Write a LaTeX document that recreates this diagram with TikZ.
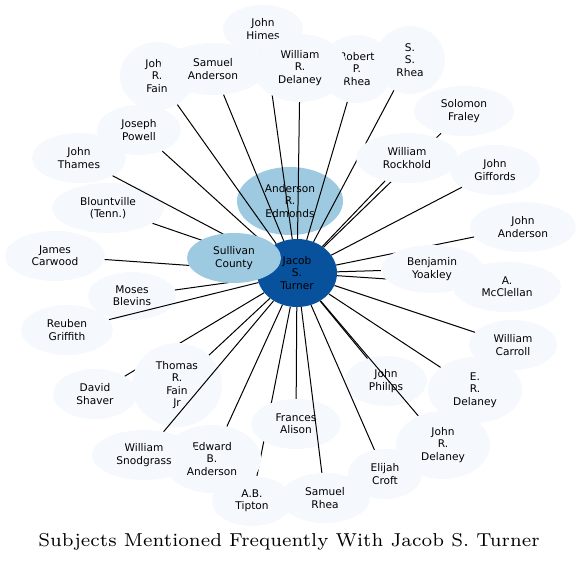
\documentclass[tikz,border=0pt]{standalone}
\usepackage{fontspec}
\newfontfamily\subjfont{DejaVu Sans}
\newfontfamily\titlefont{lmroman7-regular}[Extension=.otf]
\usetikzlibrary{shapes.geometric}
\definecolor{paleblue}{HTML}{F5F9FE}
\definecolor{midblue}{HTML}{9ECAE1}
\definecolor{deepblue}{HTML}{08519C}
\begin{document}
\begin{tikzpicture}[x=1pt,y=-1pt]
\tikzstyle{subj}=[ellipse,fill=paleblue,inner sep=0pt,align=center,font=\subjfont\fontsize{10.6}{12.4}\selectfont]
\tikzstyle{near}=[subj,fill=midblue]
\tikzstyle{hub}=[subj,fill=deepblue]
\tikzstyle{link}=[line width=1pt]
\useasboundingbox (0,0) rectangle (580,562);
\node [hub,minimum width=80pt,minimum height=68pt] (jacob) at (297,273) {Jacob\\S.\\Turner};
\node [near,minimum width=106pt,minimum height=68pt] (edmonds) at (290,201) {Anderson\\R.\\Edmonds};
\node [subj,minimum width=80pt,minimum height=48pt] (himes) at (263,29) {John\\Himes};
\draw [link] (jacob) -- (himes);
\node [subj,minimum width=74pt,minimum height=68pt] (jfain) at (157,76) {John\\R.\\Fain};
\draw [link] (jacob) -- (jfain);
\node [subj,minimum width=106pt,minimum height=52pt] (samand) at (213,69) {Samuel\\Anderson};
\draw [link] (jacob) -- (samand);
\node [subj,minimum width=72pt,minimum height=68pt] (rprhea) at (357,69) {Robert\\P.\\Rhea};
\draw [link] (jacob) -- (rprhea);
\node [subj,minimum width=94pt,minimum height=68pt] (wrdel) at (300,68) {William\\R.\\Delaney};
\draw [link] (jacob) -- (wrdel);
\node [subj,minimum width=70pt,minimum height=68pt] (ssrhea) at (410,60) {S.\\S.\\Rhea};
\draw [link] (jacob) -- (ssrhea);
\node [subj,minimum width=100pt,minimum height=50pt] (fraley) at (464,111) {Solomon\\Fraley};
\draw [link] (jacob) -- (fraley);
\node [subj,minimum width=102pt,minimum height=50pt] (rockhold) at (407,158) {William\\Rockhold};
\draw [link] (jacob) -- (rockhold);
\node [subj,minimum width=90pt,minimum height=50pt] (giffords) at (495,170) {John\\Giffords};
\draw [link] (jacob) -- (giffords);
\node [subj,minimum width=106pt,minimum height=50pt] (janderson) at (523,227) {John\\Anderson};
\draw [link] (jacob) -- (janderson);
\node [subj,minimum width=108pt,minimum height=50pt] (mcclellan) at (507,287) {A.\\McClellan};
\draw [link] (jacob) -- (mcclellan);
\node [subj,minimum width=102pt,minimum height=48pt] (yoakley) at (432,269) {Benjamin\\Yoakley};
\draw [link] (jacob) -- (yoakley);
\node [subj,minimum width=88pt,minimum height=50pt] (carroll) at (513,345) {William\\Carroll};
\draw [link] (jacob) -- (carroll);
\node [subj,minimum width=94pt,minimum height=66pt] (erdel) at (475,390) {E.\\R.\\Delaney};
\draw [link] (jacob) -- (erdel);
\node [subj,minimum width=82pt,minimum height=50pt] (philips) at (386,381) {John\\Philips};
\draw [link] (jacob) -- (philips);
\node [subj,minimum width=94pt,minimum height=68pt] (jrdel) at (443,445) {John\\R.\\Delaney};
\draw [link] (jacob) -- (jrdel);
\node [subj,minimum width=74pt,minimum height=50pt] (croft) at (385,474) {Elijah\\Croft};
\draw [link] (jacob) -- (croft);
\node [subj,minimum width=80pt,minimum height=50pt] (tipton) at (252,501) {A.B.\\Tipton};
\draw [link] (jacob) -- (tipton);
\node [subj,minimum width=90pt,minimum height=50pt] (frances) at (296,424) {Frances\\Alison};
\draw [link] (jacob) -- (frances);
\node [subj,minimum width=90pt,minimum height=50pt] (srhea) at (325,498) {Samuel\\Rhea};
\draw [link] (jacob) -- (srhea);
\node [subj,minimum width=98pt,minimum height=68pt] (edward) at (212,459) {Edward\\B.\\Anderson};
\draw [link] (jacob) -- (edward);
\node [subj,minimum width=84pt,minimum height=50pt] (shaver) at (95,394) {David\\Shaver};
\draw [link] (jacob) -- (shaver);
\node [subj,minimum width=90pt,minimum height=84pt] (tfain) at (177,385) {Thomas\\R.\\Fain\\Jr};
\draw [link] (jacob) -- (tfain);
\node [subj,minimum width=104pt,minimum height=50pt] (snodgrass) at (144,455) {William\\Snodgrass};
\draw [link] (jacob) -- (snodgrass);
\node [subj,minimum width=88pt,minimum height=48pt] (blevins) at (132,296) {Moses\\Blevins};
\draw [link] (jacob) -- (blevins);
\node [subj,minimum width=92pt,minimum height=50pt] (griffith) at (67,330) {Reuben\\Griffith};
\draw [link] (jacob) -- (griffith);
\node [subj,minimum width=100pt,minimum height=50pt] (carwood) at (55,256) {James\\Carwood};
\draw [link] (jacob) -- (carwood);
\node [subj,minimum width=112pt,minimum height=50pt] (blount) at (108,208) {Blountville\\(Tenn.)};
\draw [link] (jacob) -- (blount);
\node [subj,minimum width=94pt,minimum height=50pt] (thames) at (79,158) {John\\Thames};
\draw [link] (jacob) -- (thames);
\node [subj,minimum width=84pt,minimum height=50pt] (powell) at (139,130) {Joseph\\Powell};
\draw [link] (jacob) -- (powell);
\node [near,minimum width=94pt,minimum height=50pt] (sullivan) at (234,258) {Sullivan\\County};
\node [anchor=base,font=\titlefont\fontsize{18.7}{22}\selectfont] (title) at (289,546) {Subjects Mentioned Frequently With Jacob S. Turner};
\end{tikzpicture}
\end{document}
